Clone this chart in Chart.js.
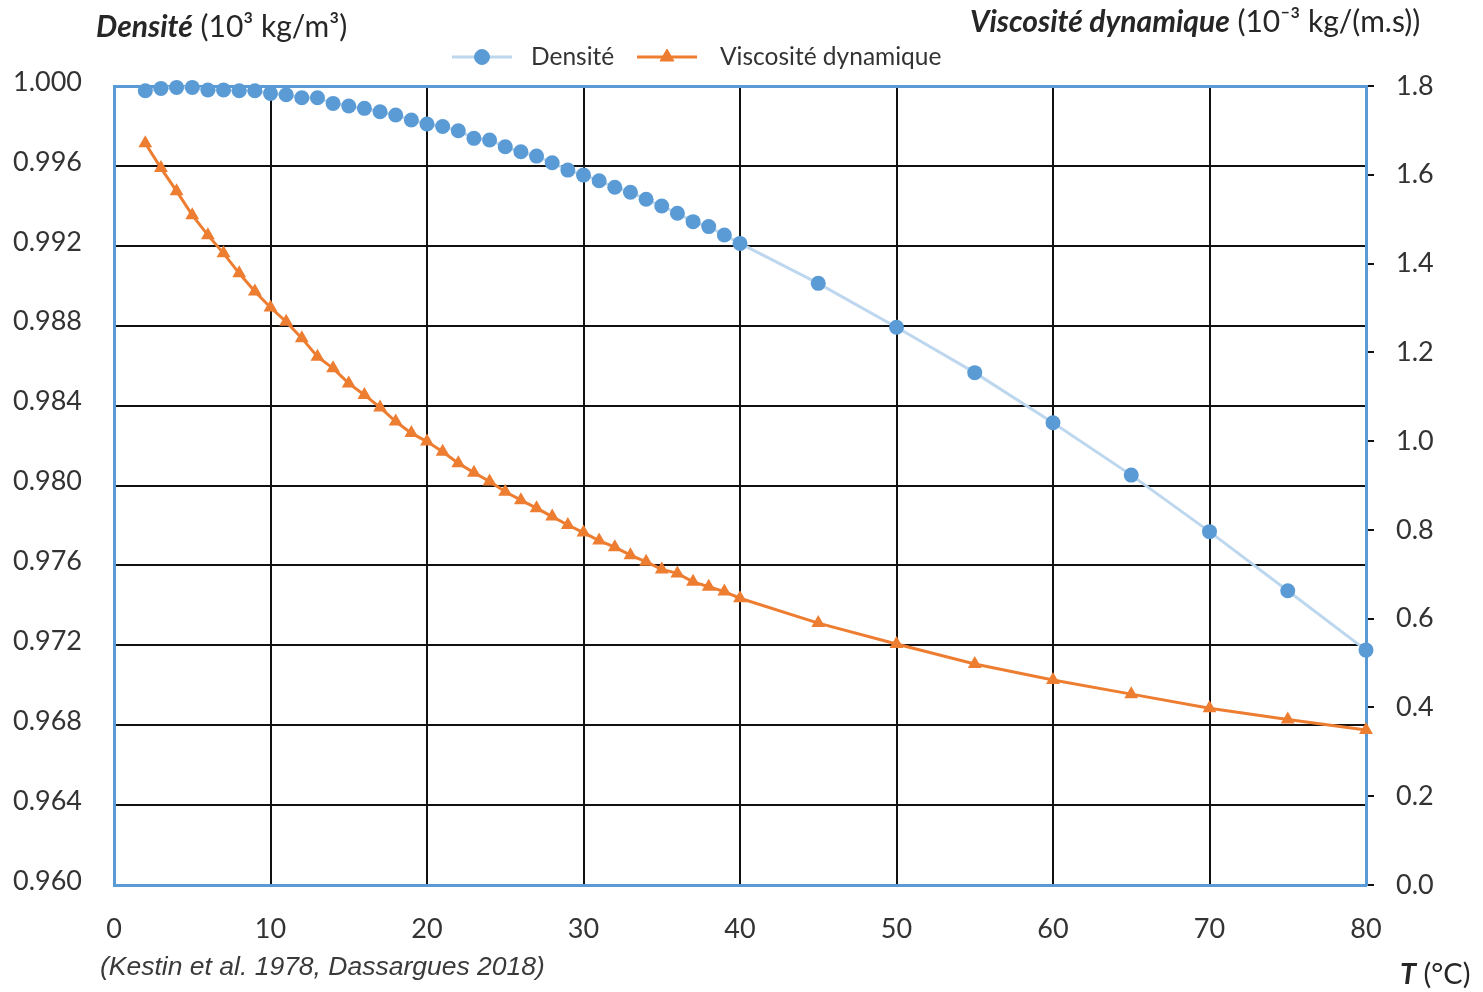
<!DOCTYPE html>
<html>
<head>
<meta charset="utf-8">
<script src="https://cdn.jsdelivr.net/npm/chart.js@4.4.0/dist/chart.umd.min.js"></script>
<style>
  body { margin: 0; background: #fff; }
  #wrap { width: 1483px; height: 992px; }
</style>
</head>
<body>
<div id="wrap"><canvas id="waterChart"></canvas></div>
<script>
// temperatures (°C)
const temps = [2, 3, 4, 5, 6, 7, 8, 9, 10, 11, 12, 13, 14, 15, 16, 17, 18, 19, 20, 21,
    22, 23, 24, 25, 26, 27, 28, 29, 30, 31, 32, 33, 34, 35, 36, 37, 38, 39, 40,
    45, 50, 55, 60, 65, 70, 75, 80];

// density (10^3 kg/m3)
const density = [0.99976, 0.99988, 0.99993, 0.99993, 0.99980, 0.99980, 0.99976, 0.99976,
    0.99963, 0.99956, 0.99941, 0.99941, 0.99913, 0.99900, 0.99888, 0.99871, 0.99855,
    0.99830, 0.99810, 0.99797, 0.99776, 0.99738, 0.99730, 0.99696, 0.99671, 0.99649,
    0.99616, 0.99579, 0.99554, 0.99526, 0.99493, 0.99468, 0.99433, 0.99399, 0.99363,
    0.99321, 0.99296, 0.99254, 0.99212,
    0.99012, 0.98792, 0.98565, 0.98314, 0.98052, 0.97769, 0.97473, 0.97176];

// dynamic viscosity (10^-3 kg/(m.s))
const viscosity = [1.671, 1.615, 1.563, 1.509, 1.464, 1.423, 1.378, 1.337, 1.301, 1.269,
    1.232, 1.190, 1.164, 1.130, 1.104, 1.076, 1.044, 1.018, 0.999, 0.976, 0.950, 0.929,
    0.909, 0.886, 0.867, 0.849, 0.830, 0.811, 0.794, 0.776, 0.761, 0.743, 0.728, 0.711,
    0.702, 0.683, 0.672, 0.661, 0.646,
    0.590, 0.543, 0.498, 0.462, 0.430, 0.398, 0.373, 0.349];

const seriesNames = ['Densité', 'Viscosité dynamique'];

const blue = '#5b9bd5';
const lightBlue = '#bdd7ee';
const orange = '#ed7d31';
const textColor = '#333333';
const tickFont = { family: 'Lato', size: 27 };

// titles, source and legend drawn on top
const decorations = {
    id: 'decorations',
    afterDraw(chart) {
        const ctx = chart.ctx;
        ctx.save();
        ctx.fillStyle = '#262626';
        ctx.textBaseline = 'middle';
        ctx.textAlign = 'left';

        const parts = (x, y, list) => {
            list.forEach(([font, txt]) => {
                ctx.font = font;
                ctx.fillText(txt, x, y);
                x += ctx.measureText(txt).width;
            });
        };
        parts(96, 27, [['italic bold 30px Lato', 'Densité'], ['30px Lato', ' (10³ kg/m³)']]);
        parts(970, 22, [['italic bold 30px Lato', 'Viscosité dynamique'], ['30px Lato', ' (10⁻³ kg/(m.s))']]);
        parts(1400, 975, [['italic bold 29px Lato', 'T'], ['29px Lato', ' (°C)']]);

        ctx.fillStyle = '#3a3a3a';
        ctx.font = 'italic 26.5px "Liberation Sans"';
        ctx.fillText('(Kestin et al. 1978, Dassargues 2018)', 100, 968);

        // legend
        const ds = chart.data.datasets;
        const items = [
            { x: 452, text: 531, ds: ds[0] },
            { x: 637, text: 720, ds: ds[1] }
        ];
        const ly = 57;
        items.forEach(it => {
            ctx.strokeStyle = it.ds.borderColor;
            ctx.lineWidth = it.ds.borderWidth;
            ctx.beginPath();
            ctx.moveTo(it.x, ly);
            ctx.lineTo(it.x + 60, ly);
            ctx.stroke();
            ctx.fillStyle = it.ds.pointBackgroundColor;
            ctx.strokeStyle = it.ds.pointBorderColor;
            ctx.lineWidth = 1;
            Chart.helpers.drawPoint(ctx, {
                pointStyle: it.ds.pointStyle,
                radius: it.ds.pointRadius,
                borderWidth: 1
            }, it.x + 30, ly);
            ctx.fillStyle = textColor;
            ctx.font = '24.5px Lato';
            ctx.fillText(it.ds.label, it.text, ly);
        });
        ctx.restore();
    }
};

const ctx = document.getElementById('waterChart').getContext('2d');

const chart = new Chart(ctx, {
    type: 'line',
    data: {
        datasets: [{
            label: seriesNames[0],
            data: temps.map((t, i) => ({ x: t, y: density[i] })),
            yAxisID: 'y',
            borderColor: lightBlue,
            borderWidth: 3,
            pointStyle: 'circle',
            pointRadius: 7.5,
            pointBackgroundColor: blue,
            pointBorderColor: blue,
            pointBorderWidth: 0,
            tension: 0,
            clip: false
        }, {
            label: seriesNames[1],
            data: temps.map((t, i) => ({ x: t, y: viscosity[i] })),
            yAxisID: 'y1',
            borderColor: orange,
            borderWidth: 3,
            pointStyle: 'triangle',
            pointRadius: 8,
            pointBackgroundColor: orange,
            pointBorderColor: orange,
            pointBorderWidth: 0,
            tension: 0,
            clip: false
        }]
    },
    options: {
        responsive: true,
        maintainAspectRatio: false,
        animation: false,
        layout: { padding: 0 },
        plugins: {
            legend: { display: false },
            tooltip: { enabled: false }
        },
        scales: {
            x: {
                type: 'linear',
                position: 'bottom',
                min: 0,
                max: 80,
                ticks: { stepSize: 10, color: textColor, font: tickFont, padding: 28 },
                grid: {
                    color: c => c.tick && c.tick.value === 0 ? 'rgba(0,0,0,0)' : '#111',
                    lineWidth: 2,
                    drawTicks: false
                },
                border: { color: blue, width: 3 },
                afterFit: s => { s.height = 107; }
            },
            xTop: {
                type: 'linear',
                position: 'top',
                min: 0,
                max: 80,
                ticks: { display: false },
                grid: { drawOnChartArea: false, drawTicks: false },
                border: { color: blue, width: 3 },
                afterFit: s => { s.height = 86; }
            },
            y: {
                position: 'left',
                min: 0.960,
                max: 1.000,
                ticks: {
                    stepSize: 0.004,
                    color: textColor,
                    font: tickFont,
                    padding: 32,
                    labelOffset: -4,
                    callback: v => v.toFixed(3)
                },
                grid: {
                    color: c => (c.tick && (Math.abs(c.tick.value - 1) < 1e-6 || Math.abs(c.tick.value - 0.96) < 1e-6)) ? 'rgba(0,0,0,0)' : '#111',
                    lineWidth: 2,
                    drawTicks: false
                },
                border: { color: blue, width: 3 },
                afterFit: s => { s.width = 114; }
            },
            y1: {
                position: 'right',
                min: 0,
                max: 1.8,
                ticks: {
                    stepSize: 0.2,
                    color: textColor,
                    font: tickFont,
                    padding: 22,
                    callback: v => v.toFixed(1)
                },
                grid: {
                    drawOnChartArea: false,
                    drawTicks: true,
                    tickLength: 8,
                    tickColor: '#111',
                    lineWidth: 2
                },
                border: { color: blue, width: 3 },
                afterFit: s => { s.width = 117; }
            }
        }
    },
    plugins: [decorations]
});
</script>
</body>
</html>
